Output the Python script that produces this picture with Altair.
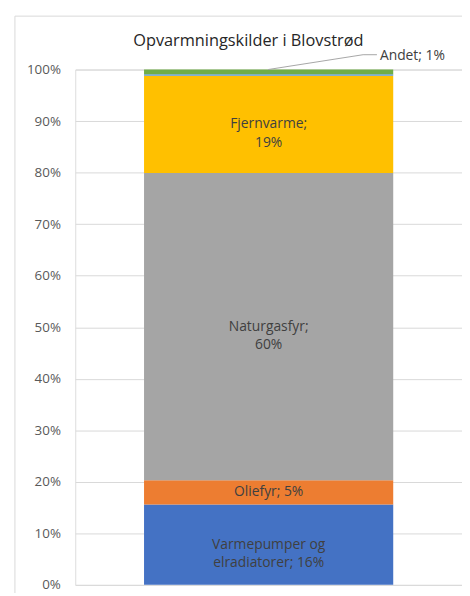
import altair as alt
import pandas as pd

categories = ["Varmepumper og elradiatorer", "Oliefyr", "Naturgasfyr", "Fjernvarme", "Øvrige", "Andet"]
values = [15.6, 4.7, 59.6, 18.9, 0.3, 0.9]
labels = ["Varmepumper og\nelradiatorer; 16%", "Oliefyr; 5%", "Naturgasfyr;\n60%", "Fjernvarme;\n19%", "", ""]
colors = ["#4472C4", "#ED7D31", "#A5A5A5", "#FFC000", "#5B9BD5", "#70AD47"]
y_ticks = [0, 0.1, 0.2, 0.3, 0.4, 0.5, 0.6, 0.7, 0.8, 0.9, 1.0]
outside_label = "Andet; 1%"
title_text = "Opvarmningskilder i Blovstrød"

rows = []
cum = 0.0
for i, (c, v, l) in enumerate(zip(categories, values, labels)):
    start = cum / 100
    cum += v
    end = cum / 100
    rows.append({"bar": "Blovstrød", "cat": c, "start": start, "end": end,
                 "mid": (start + end) / 2, "label": l, "order": i})
df = pd.DataFrame(rows)
andet = df[df["cat"] == "Andet"].assign(text=outside_label)
title_df = pd.DataFrame({"t": [title_text]})

FONT = "Open Sans"

x_enc = alt.X("bar:N", axis=None, scale=alt.Scale(paddingInner=0, paddingOuter=0.276))
y_scale = alt.Scale(domain=[0, 1], nice=False)

frame = alt.Chart(title_df).mark_rect(fill="white", fillOpacity=0, stroke="#D9D9D9", strokeWidth=1).encode(
    x=alt.value(-61), x2=alt.value(520), y=alt.value(-54), y2=alt.value(620)
)

title = alt.Chart(title_df).mark_text(fontSize=16.5, font=FONT, color="#262626",
                                      align="center", baseline="alphabetic").encode(
    x=alt.value(175), y=alt.value(-24), text="t:N"
)

bars = alt.Chart(df).mark_bar().encode(
    x=x_enc,
    y=alt.Y("start:Q", scale=y_scale,
            axis=alt.Axis(values=y_ticks, format=".0%", title=None, domain=False, ticks=False,
                          labelPadding=15, labelFontSize=13.5, labelFont=FONT, labelColor="#595959",
                          gridColor="#D9D9D9", gridWidth=1)),
    y2="end:Q",
    color=alt.Color("cat:N", scale=alt.Scale(domain=categories, range=colors), legend=None),
)

texts = alt.Chart(df).mark_text(lineBreak="\n", fontSize=14, font=FONT, color="#404040",
                                baseline="middle", align="center", lineHeight=19).encode(
    x=x_enc,
    y=alt.Y("mid:Q", scale=y_scale),
    text="label:N",
)

leader = alt.Chart(andet).mark_rule(color="#A6A6A6", strokeWidth=1).encode(
    x=alt.value(195), x2=alt.value(291), y=alt.Y("end:Q", scale=y_scale), y2=alt.value(-15)
)
leader2 = alt.Chart(andet).mark_rule(color="#A6A6A6", strokeWidth=1).encode(
    x=alt.value(291), x2=alt.value(305), y=alt.value(-15)
)
andet_text = alt.Chart(andet).mark_text(fontSize=14, font=FONT, color="#404040",
                                        align="left", baseline="middle", dy=-14).encode(
    x=alt.value(308),
    y=alt.Y("end:Q", scale=y_scale),
    text="text:N",
)

chart = alt.layer(frame, title, bars, texts, leader, leader2, andet_text).properties(
    width=391, height=521,
    autosize=alt.AutoSizeParams(type="none"),
    padding={"left": 68, "top": 59, "right": 0, "bottom": 5},
).configure_view(stroke=None).configure(background="white")

chart.save("out.html", embed_options={"renderer": "svg", "actions": False})
